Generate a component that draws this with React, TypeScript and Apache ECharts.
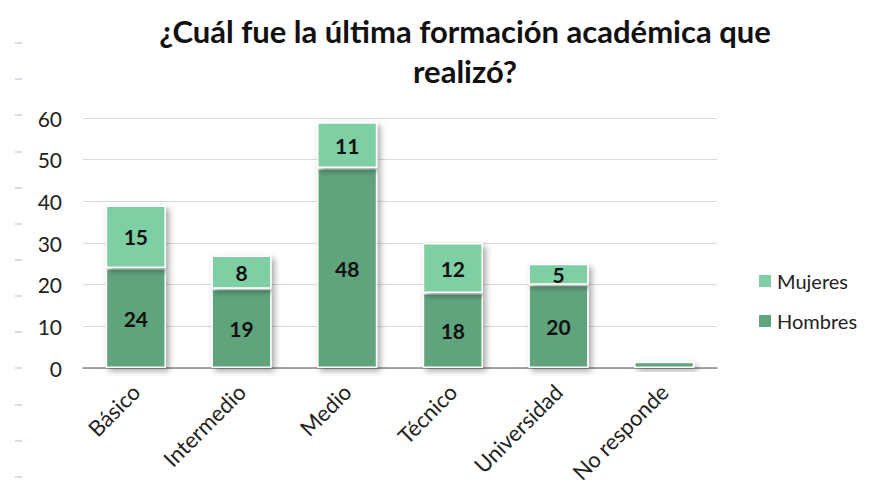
import React, { useEffect, useRef } from "react";
import * as echarts from "echarts";

const categories = ["Básico", "Intermedio", "Medio", "Técnico", "Universidad", "No responde"];
const hombres = [24, 19, 48, 18, 20, 1.5];
const mujeres = [15, 8, 11, 12, 5, 0];
const yTicks = [0, 10, 20, 30, 40, 50, 60];
const titleText = "¿Cuál fue la última formación académica que\nrealizó?";

const FONT = "Lato, 'Open Sans', sans-serif";

export default function App() {
  const ref = useRef<HTMLDivElement>(null);
  useEffect(() => {
    if (!ref.current) return;
    const chart = echarts.init(ref.current, null, { renderer: "svg" });
    const dashYs = [6, 43, 79, 115, 152, 188, 224, 260, 296, 332, 368, 405, 441, 477];
    const shadow = {
      shadowColor: "rgba(0,0,0,0.35)",
      shadowBlur: 6,
      shadowOffsetX: 3,
      shadowOffsetY: 3,
    };
    const labelStyle = {
      show: true,
      position: "inside" as const,
      color: "#111",
      fontWeight: "bold" as const,
      fontSize: 21,
      fontFamily: FONT,
    };
    chart.setOption({
      animation: false,
      backgroundColor: "#ffffff",
      title: {
        text: titleText,
        left: 460,
        top: 6,
        textAlign: "center",
        textStyle: {
          fontFamily: FONT,
          fontWeight: "bold",
          fontSize: 31,
          color: "#111",
          lineHeight: 40,
        },
      },
      grid: { left: 83, right: 152, top: 118, bottom: 120, containLabel: false },
      legend: {
        orient: "vertical",
        left: 752,
        top: 266,
        itemGap: 20,
        itemWidth: 14,
        itemHeight: 14,
        icon: "rect",
        data: ["Mujeres", "Hombres"],
        textStyle: { fontFamily: FONT, fontSize: 20, color: "#222" },
      },
      xAxis: {
        type: "category",
        data: categories,
        axisLine: { lineStyle: { color: "#888", width: 1.5 } },
        axisTick: { show: false },
        axisLabel: {
          rotate: 45,
          fontFamily: FONT,
          fontSize: 22,
          color: "#222",
          margin: 20,
          interval: 0,
        },
      },
      yAxis: {
        type: "value",
        min: yTicks[0],
        max: yTicks[yTicks.length - 1],
        interval: 10,
        axisLine: { show: false },
        axisTick: { show: false },
        splitLine: { lineStyle: { color: "#d9d9d9", width: 1 } },
        axisLabel: {
          fontFamily: FONT,
          fontSize: 21,
          color: "#222",
          margin: 21,
        },
      },
      series: [
        {
          name: "Hombres",
          type: "bar",
          stack: "total",
          barWidth: "57%",
          data: hombres.map((v, i) => ({
            value: v,
            label: { show: i < 5 },
          })),
          itemStyle: {
            color: "#5ea47d",
            borderColor: "#ffffff",
            borderWidth: 1.5,
            ...shadow,
          },
          label: labelStyle,
        },
        {
          name: "Mujeres",
          type: "bar",
          stack: "total",
          barWidth: "57%",
          data: mujeres.map((v) => ({
            value: v,
            label: { show: v > 0 },
          })),
          itemStyle: {
            color: "#7ecfa3",
            borderColor: "#ffffff",
            borderWidth: 1.5,
            ...shadow,
          },
          label: labelStyle,
        },
      ],
      graphic: dashYs.map((y) => ({
        type: "line",
        shape: { x1: 15, y1: y, x2: 22, y2: y },
        style: { stroke: "#c9d2de", lineWidth: 1.5 },
        silent: true,
      })),
    });
    return () => chart.dispose();
  }, []);
  return <div ref={ref} style={{ width: 869, height: 488, margin: -8 }} />;
}
